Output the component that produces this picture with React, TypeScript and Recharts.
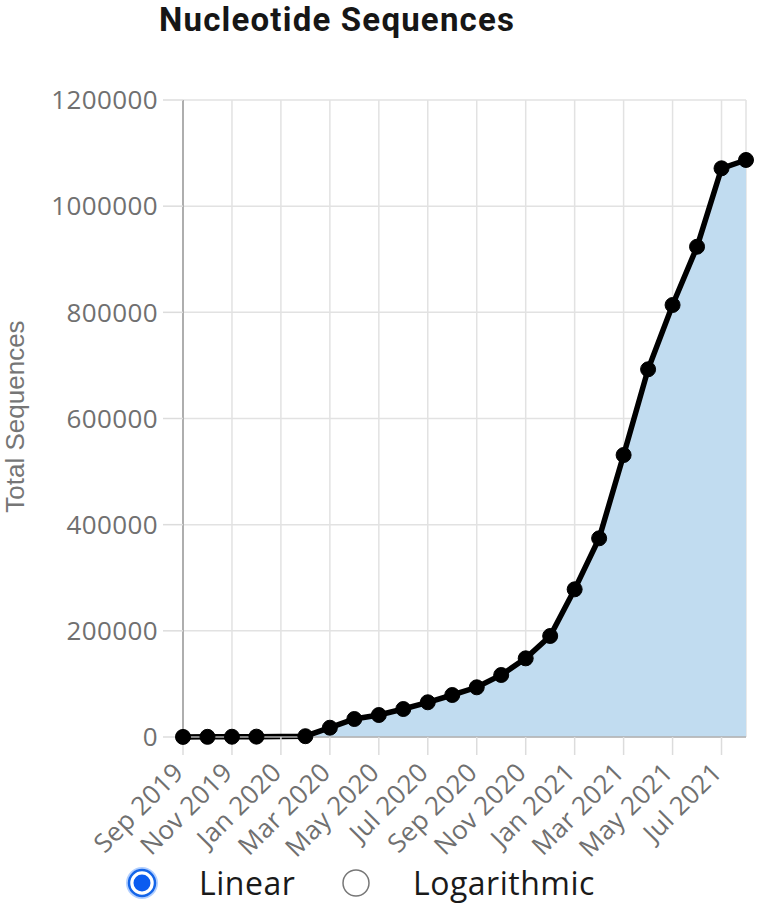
import React from 'react';
import { ComposedChart, Area, XAxis, YAxis, CartesianGrid, Label } from 'recharts';

// Months with a data point (Jan 2020 has none)
const months: string[] = [
  '2019-09', '2019-10', '2019-11', '2019-12',
  '2020-02', '2020-03', '2020-04', '2020-05', '2020-06', '2020-07', '2020-08',
  '2020-09', '2020-10', '2020-11', '2020-12',
  '2021-01', '2021-02', '2021-03', '2021-04', '2021-05', '2021-06', '2021-07', '2021-08',
];

const totalSequences: number[] = [
  200, 300, 500, 700,
  1500, 17500, 33900, 41400, 52700, 65400, 79100,
  93600, 116800, 148200, 190300,
  278200, 374300, 531200, 692700, 813800, 923600, 1071300, 1087000,
];

const MONTH_NAMES = ['Jan', 'Feb', 'Mar', 'Apr', 'May', 'Jun', 'Jul', 'Aug', 'Sep', 'Oct', 'Nov', 'Dec'];
const START_YEAR = 2019;
const START_MONTH = 9;

const tickMonths: string[] = [
  '2019-09', '2019-11', '2020-01', '2020-03', '2020-05', '2020-07',
  '2020-09', '2020-11', '2021-01', '2021-03', '2021-05', '2021-07',
];

const yTicks: number[] = [0, 200000, 400000, 600000, 800000, 1000000, 1200000];

const monthIndex = (s: string) => {
  const [y, m] = s.split('-').map(Number);
  return (y - START_YEAR) * 12 + (m - START_MONTH);
};

const monthLabel = (idx: number) => {
  const total = START_MONTH - 1 + idx;
  const y = START_YEAR + Math.floor(total / 12);
  return `${MONTH_NAMES[total % 12]} ${y}`;
};

const data = months.map((m, i) => ({ m: monthIndex(m), v: totalSequences[i] }));
const xTicks = tickMonths.map(monthIndex);

const FONT = '"Open Sans", "Noto Sans", sans-serif';

const XTick = (props: any) => {
  const { x, y, payload } = props;
  return (
    <g transform={`translate(${x + 2},${y + 17})`}>
      <text x={0} y={0} textAnchor="end" transform="rotate(-45)" fill="#707070" fontSize={26} letterSpacing={0.3} fontFamily={FONT}>
        {monthLabel(payload.value)}
      </text>
    </g>
  );
};

const YLabel = (props: any) => {
  const vb = props.viewBox || { x: 0, y: 0, width: 0, height: 0 };
  const cy = vb.y + vb.height / 2 - 2;
  const cx = 24;
  return (
    <text x={cx} y={cy} textAnchor="middle" transform={`rotate(-90, ${cx}, ${cy})`} fill="#767676" fontSize={26} fontFamily='"Liberation Sans", Arial, sans-serif'>
      Total Sequences
    </text>
  );
};

export default function App() {
  return (
    <div style={{ position: 'absolute', left: 0, top: 0, width: 757, height: 908, background: '#fff' }}>
      <ComposedChart
        width={757}
        height={908}
        data={data}
        margin={{ top: 100, right: 11, left: 0, bottom: 48 }}
      >
        <CartesianGrid stroke="#e2e2e2" strokeWidth={1.5} />
        <XAxis
          dataKey="m"
          type="number"
          domain={[0, 23]}
          ticks={xTicks}
          interval={0}
          height={123}
          tickSize={18}
          tick={<XTick />}
          tickLine={{ stroke: '#dcdcdc', strokeWidth: 1.5 }}
          axisLine={{ stroke: '#b0b0b0', strokeWidth: 1.5 }}
        />
        <YAxis
          type="number"
          domain={[0, 1200000]}
          ticks={yTicks}
          interval={0}
          width={183}
          tickSize={20}
          tickMargin={5}
          tick={{ fontSize: 26, fill: '#707070', fontFamily: FONT, letterSpacing: 0.4 }}
          tickLine={{ stroke: '#dcdcdc', strokeWidth: 1.5 }}
          axisLine={{ stroke: '#9a9a9a', strokeWidth: 1.5 }}
        >
          <Label content={<YLabel />} />
        </YAxis>
        <Area
          dataKey="v"
          type="linear"
          stroke="#000"
          strokeWidth={5.5}
          fill="#c1dcf0"
          fillOpacity={1}
          dot={{ r: 7.5, fill: '#000', stroke: '#000', strokeWidth: 1 }}
          activeDot={false}
          isAnimationActive={false}
        />
      </ComposedChart>
      <svg width={757} height={908} style={{ position: 'absolute', left: 0, top: 0, pointerEvents: 'none' }}>
        <text x={159} y={31} fontSize={33} fontWeight={700} letterSpacing={1.2} fill="#161616" fontFamily='Roboto, "Open Sans", sans-serif'>
          Nucleotide Sequences
        </text>
        <circle cx={142} cy={883} r={15} fill="none" stroke="#b3d0ff" strokeWidth={2} />
        <circle cx={142} cy={883} r={13} fill="#fff" stroke="#1565e8" strokeWidth={2.5} />
        <circle cx={142} cy={883} r={8.5} fill="#0b5cf0" />
        <text x={199} y={895} fontSize={32} letterSpacing={0.5} fill="#1a1a1a" fontFamily={FONT}>Linear</text>
        <circle cx={356} cy={883} r={13} fill="#fff" stroke="#777" strokeWidth={1.5} />
        <text x={413} y={895} fontSize={32} letterSpacing={0.5} fill="#1a1a1a" fontFamily={FONT}>Logarithmic</text>
      </svg>
    </div>
  );
}
